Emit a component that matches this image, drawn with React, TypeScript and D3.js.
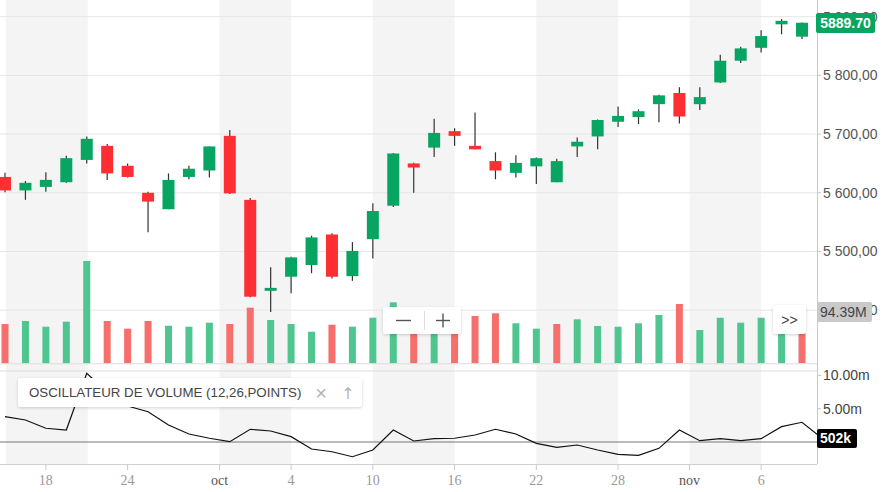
import React from "react";
import * as d3 from "d3";

// ---- data ----
const dates = [
  "2024-09-16","2024-09-17","2024-09-18","2024-09-19","2024-09-20",
  "2024-09-23","2024-09-24","2024-09-25","2024-09-26","2024-09-27",
  "2024-09-30","2024-10-01","2024-10-02","2024-10-03","2024-10-04",
  "2024-10-07","2024-10-08","2024-10-09","2024-10-10","2024-10-11",
  "2024-10-14","2024-10-15","2024-10-16","2024-10-17","2024-10-18",
  "2024-10-21","2024-10-22","2024-10-23","2024-10-24","2024-10-25",
  "2024-10-28","2024-10-29","2024-10-30","2024-10-31","2024-11-01",
  "2024-11-04","2024-11-05","2024-11-06","2024-11-07","2024-11-08",
];
const opens = [5627,5604,5610,5618,5656,5680,5646,5600,5572,5627,5638,5697,5588,5433,5457,5477,5529,5458,5521,5578,5650,5677,5705,5680,5654,5634,5645,5618,5679,5696,5721,5729,5751,5770,5751,5788,5825,5847,5887,5866];
const highs = [5634,5620,5635,5663,5696,5683,5650,5602,5633,5646,5679,5707,5591,5473,5491,5527,5531,5516,5582,5668,5651,5726,5710,5737,5669,5664,5660,5658,5694,5725,5747,5742,5767,5780,5780,5835,5849,5877,5896,5890];
const lows = [5601,5588,5602,5617,5650,5622,5626,5533,5572,5623,5626,5598,5422,5397,5429,5463,5454,5450,5488,5576,5600,5661,5680,5674,5623,5626,5615,5618,5661,5674,5712,5717,5720,5718,5741,5787,5821,5839,5870,5862];
const closes = [5604,5617,5622,5659,5692,5633,5627,5585,5622,5641,5679,5599,5423,5438,5490,5524,5457,5501,5569,5667,5643,5702,5697,5674,5638,5651,5659,5654,5687,5724,5731,5739,5766,5730,5763,5825,5846,5867,5893,5889.7];
const volumes = [122.4,131.8,114.0,129.6,318.7,131.8,107.8,131.8,117.1,114.0,126.5,122.4,173.2,134.9,122.4,98.4,120.2,114.0,142.0,190.0,118,137,112,147.3,155.8,124.6,107.8,122.4,137.1,116.2,114.0,124.6,150.5,184.7,103.7,142.0,126.5,142.0,103,94.39];
// volume oscillator (millions), one extra trailing point beyond the last candle
const oscValues = [3.80,3.30,2.06,1.80,10.32,7.5,5.4,4.55,2.55,1.20,0.56,0.05,1.91,1.65,0.80,-1.05,-1.46,-2.21,-1.20,1.80,0.15,0.50,0.56,1.05,1.91,1.20,-0.20,-0.80,-0.45,-1.20,-1.85,-2.00,-0.95,1.80,0.20,0.50,0.20,0.50,2.30,2.96,0.502];

const priceTicks = [5400, 5500, 5600, 5700, 5800, 5900];
const oscTicks = [5, 10];
const oscTickLabels = ["5.00m", "10.00m"];
// x-axis ticks: position in trading-day index, label, is month
const xTickPos = [2, 6, 10.5, 14, 18, 22, 26, 30, 33.5, 37];
const xTickLabels = ["18", "24", "oct", "4", "10", "16", "22", "28", "nov", "6"];
const xTickMonth = [false, false, true, false, false, false, false, false, true, false];
// shaded background bands (in trading-day index)
const bandStarts = [0.05, 10.5, 18, 26, 33.5];
const bandEnds = [4.05, 14, 22, 30, 37];

const lastPriceLabel = "5889.70";
const lastVolumeLabel = "94.39M";
const lastOscLabel = "502k";
const oscTitle = "OSCILLATEUR DE VOLUME (12,26,POINTS)";

const W = 882;
const H = 492;
const PLOT_R = 817;

const GREEN = "#08a562";
const RED = "#fd2f33";
const VGREEN = "#4fc58f";
const VRED = "#f66f6d";
const SANS = "'Liberation Sans', Arial, sans-serif";
const SERIF = "'Liberation Serif', 'Times New Roman', serif";

function fmtPrice(v: number) {
  const th = Math.floor(v / 1000);
  const rest = String(Math.round(v % 1000)).padStart(3, "0");
  return `${th} ${rest},00`;
}

export default function App() {
  const x = d3.scaleLinear().domain([0, 39]).range([5, 802]);
  const yP = d3.scaleLinear().domain([5400, 5900]).range([310.2, 16.7]);
  const yV = d3.scaleLinear().domain([0, 100]).range([363.3, 363.3 - 100 / 3.115]);
  const yO = d3.scaleLinear().domain([0, 10]).range([442, 375.4]);

  const oscLine = d3
    .line<number>()
    .x((_, i) => x(i))
    .y((d) => yO(d));

  const bodyW = 12;
  const volW = 7;

  return (
    <div style={{ position: "fixed", left: 0, top: 0 }}>
      <svg width={W} height={H} style={{ display: "block", background: "#fff" }}>
        <defs>
          <clipPath id="mainClip">
            <rect x={0} y={0} width={PLOT_R} height={364} />
          </clipPath>
          <clipPath id="oscClip">
            <rect x={0} y={371} width={PLOT_R} height={93} />
          </clipPath>
          <filter id="shadow" x="-10%" y="-30%" width="120%" height="160%">
            <feDropShadow dx="0" dy="1" stdDeviation="1.5" floodColor="#000" floodOpacity="0.18" />
          </filter>
        </defs>

        {/* background bands */}
        {bandStarts.map((s, i) => (
          <rect key={"b" + i} x={x(s)} y={0} width={x(bandEnds[i]) - x(s)} height={464} fill="#f4f4f4" />
        ))}

        {/* grid lines */}
        {priceTicks.map((p) => (
          <line key={"g" + p} x1={0} x2={PLOT_R} y1={yP(p)} y2={yP(p)} stroke="#e6e6e6" strokeWidth={1} />
        ))}

        <g clipPath="url(#mainClip)">
          {/* volume bars */}
          {volumes.map((v, i) => {
            const up = i === 0 ? closes[i] >= opens[i] : closes[i] >= closes[i - 1];
            return (
              <rect
                key={"v" + i}
                x={x(i) - volW / 2}
                y={yV(v)}
                width={volW}
                height={yV(0) - yV(v)}
                fill={up ? VGREEN : VRED}
              />
            );
          })}
          {/* candles */}
          {dates.map((d, i) => {
            const up = closes[i] >= opens[i];
            const top = yP(Math.max(opens[i], closes[i]));
            const bot = yP(Math.min(opens[i], closes[i]));
            return (
              <g key={"c" + d}>
                <line x1={x(i)} x2={x(i)} y1={yP(highs[i])} y2={yP(lows[i])} stroke="#333" strokeWidth={1.2} />
                <rect
                  x={x(i) - bodyW / 2}
                  y={top}
                  width={bodyW}
                  height={Math.max(2.5, bot - top)}
                  fill={up ? GREEN : RED}
                />
              </g>
            );
          })}
        </g>

        {/* panel separators */}
        <line x1={0} x2={PLOT_R} y1={363.8} y2={363.8} stroke="#dcdcdc" />
        <line x1={0} x2={PLOT_R} y1={371} y2={371} stroke="#dcdcdc" />

        {/* oscillator */}
        <line x1={0} x2={PLOT_R} y1={yO(0)} y2={yO(0)} stroke="#777" strokeWidth={1} />
        <g clipPath="url(#oscClip)">
          <path d={oscLine(oscValues) || ""} fill="none" stroke="#111" strokeWidth={1.2} />
        </g>

        {/* axes */}
        <line x1={PLOT_R + 0.5} x2={PLOT_R + 0.5} y1={0} y2={464} stroke="#c8c8c8" />
        <line x1={0} x2={PLOT_R} y1={464.5} y2={464.5} stroke="#d0d0d0" />

        {xTickPos.map((p, i) => (
          <g key={"xt" + i}>
            <line x1={x(p)} x2={x(p)} y1={465} y2={470} stroke="#c8c8c8" />
            <text
              x={x(p)}
              y={485}
              textAnchor="middle"
              fontFamily={SERIF}
              fontSize={14}
              fill={xTickMonth[i] ? "#555" : "#999"}
            >
              {xTickLabels[i]}
            </text>
          </g>
        ))}

        {priceTicks.map((p) => (
          <g key={"pt" + p}>
            <line x1={PLOT_R} x2={PLOT_R + 4} y1={yP(p)} y2={yP(p)} stroke="#c8c8c8" />
            <text x={823} y={yP(p)} dy="0.35em" fontFamily={SANS} fontSize={14} fill="#555">
              {fmtPrice(p)}
            </text>
          </g>
        ))}

        {oscTicks.map((t, i) => (
          <g key={"ot" + t}>
            <line x1={PLOT_R} x2={PLOT_R + 4} y1={yO(t)} y2={yO(t)} stroke="#c8c8c8" />
            <text x={823} y={yO(t)} dy="0.35em" fontFamily={SANS} fontSize={14} fill="#444">
              {oscTickLabels[i]}
            </text>
          </g>
        ))}

        {/* zoom buttons */}
        <g filter="url(#shadow)">
          <rect x={383} y={307} width={78} height={27} rx={3} fill="#fff" />
        </g>
        <line x1={396} x2={411} y1={320.5} y2={320.5} stroke="#555" strokeWidth={1.4} />
        <line x1={424.5} x2={424.5} y1={311} y2={330} stroke="#ddd" />
        <line x1={436} x2={450} y1={320.5} y2={320.5} stroke="#555" strokeWidth={1.4} />
        <line x1={443} x2={443} y1={313.5} y2={327.5} stroke="#555" strokeWidth={1.4} />

        {/* >> button */}
        <g filter="url(#shadow)">
          <rect x={773} y={305} width={33} height={29} rx={3} fill="#fff" />
        </g>
        <text x={789.5} y={320} dy="0.35em" textAnchor="middle" fontFamily={SANS} fontSize={14} fill="#444">
          {">>"}
        </text>

        {/* oscillator legend */}
        <g filter="url(#shadow)">
          <rect x={18} y={378} width={344} height={29} rx={3} fill="#fff" />
        </g>
        <text x={29} y={392.5} dy="0.35em" fontFamily={SANS} fontSize={13.3} fill="#444">
          {oscTitle}
        </text>
        <text x={321} y={392.5} dy="0.35em" textAnchor="middle" fontFamily={SANS} fontSize={20} fill="#b5b5b5">
          ×
        </text>
        <text x={348} y={393} dy="0.35em" textAnchor="middle" fontFamily="'DejaVu Sans', sans-serif" fontSize={16} fill="#b5b5b5">
          ↑
        </text>

        {/* last price label */}
        <rect x={816} y={13} width={59} height={20} rx={2} fill={GREEN} />
        <text x={845.5} y={23} dy="0.35em" textAnchor="middle" fontFamily={SANS} fontSize={14} fontWeight="bold" fill="#fff">
          {lastPriceLabel}
        </text>

        {/* last volume label */}
        <rect x={817} y={302} width={55} height={20} rx={2} fill="#c9c9c9" />
        <text x={820} y={312} dy="0.35em" fontFamily={SANS} fontSize={14} fill="#444">
          {lastVolumeLabel}
        </text>

        {/* last osc label */}
        <rect x={817} y={429} width={40} height={19} rx={2} fill="#000" />
        <text x={820} y={438.5} dy="0.35em" fontFamily={SANS} fontSize={14} fontWeight="bold" fill="#fff">
          {lastOscLabel}
        </text>
      </svg>
    </div>
  );
}
